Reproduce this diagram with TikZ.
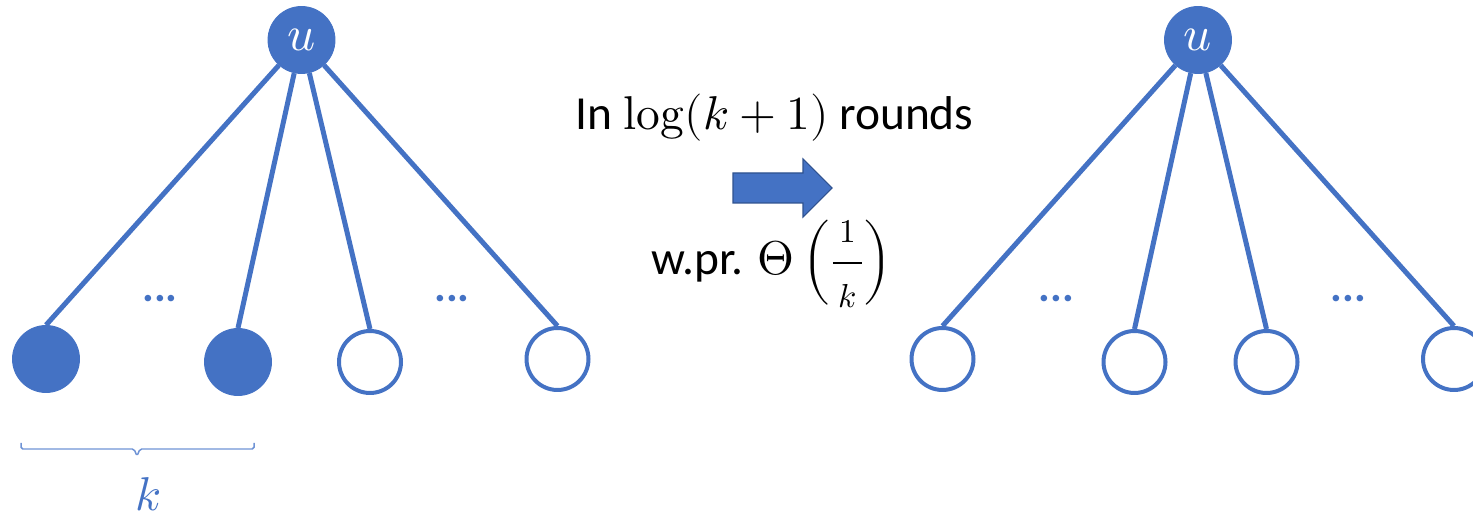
\documentclass[tikz,border=0pt]{standalone}
\usepackage{amsmath}
\usepackage{fontspec}
\usepackage{unicode-math}
\setmainfont{Carlito}
\usetikzlibrary{positioning}

\definecolor{nodeblue}{HTML}{4472C4}
\definecolor{arrowedge}{HTML}{2F528F}
\definecolor{braceblue}{HTML}{6F93D5}

\tikzset{
  full/.style={circle, fill=nodeblue, draw=nodeblue, line width=0.5pt,
               minimum size=1.34cm, inner sep=0pt},
  hollow/.style={circle, fill=white, draw=nodeblue, line width=0.08cm,
                 minimum size=1.24cm, inner sep=0pt},
  rootlabel/.style={text=white, font=\fontsize{28}{30}\selectfont},
  treeedge/.style={draw=nodeblue, line width=0.1cm},
  dotsmark/.style={text=nodeblue, inner sep=0pt, font=\fontsize{25}{28}\selectfont\bfseries},
  bigtext/.style={font=\fontsize{27}{30}\selectfont, inner sep=0pt}
}

\begin{document}
\begin{tikzpicture}[x=0.02cm, y=-0.02cm]

    % =================================================================
    % 0. KHUNG HÌNH
    % =================================================================
    \useasboundingbox (0,0) rectangle (1473,516);
    \def\dx{896.5}   % khoảng dịch cây bên phải

    % =================================================================
    % 1. CÂY BÊN TRÁI
    % =================================================================
    \node[full, rootlabel] (uL) at (301.5,40) {$u$};
    \node[full]   (aL1) at (46,359)    {};
    \node[full]   (aL2) at (238,362)   {};
    \node[hollow] (aL3) at (370,362)   {};
    \node[hollow] (aL4) at (557.5,359) {};

    \draw[treeedge] (uL) -- (aL1.north);
    \draw[treeedge] (uL) -- (aL2.north);
    \draw[treeedge] (uL) -- (aL3.north);
    \draw[treeedge] (uL) -- (aL4.north);

    \node[dotsmark] (dL1) at (160,299) {...};
    \node[dotsmark] (dL2) at (452,299) {...};

    % Dấu ngoặc dưới k lá đầu tiên
    \draw[braceblue, line width=0.03cm, rounded corners=1pt]
        (21,443) -- (21,449) -- (134,449) -- (137,456) -- (140,449)
        -- (254,449) -- (254,443);
    \node[bigtext, text=nodeblue] (klabel) at (148,494) {$k$};

    % =================================================================
    % 2. MŨI TÊN Ở GIỮA VÀ CHÚ THÍCH
    % =================================================================
    \node[bigtext, anchor=base] (rounds) at (774.5,130)
        {In $\mathop{\symup{log}}(k+1)$ rounds};
    \filldraw[fill=nodeblue, draw=arrowedge, line width=0.6pt]
        (733,173) -- (803,173) -- (803,159) -- (832,188)
        -- (803,217) -- (803,203) -- (733,203) -- cycle;
    \node[bigtext, anchor=base] (prob) at (772,275)
        {w.pr. $\Theta\left(\dfrac{\scriptstyle\,1\,}{\scriptstyle\,k\,}\right)$};

    % =================================================================
    % 3. CÂY BÊN PHẢI
    % =================================================================
    \begin{scope}[shift={(\dx,0)}]
        \node[full, rootlabel] (uR) at (301.5,40) {$u$};
        \node[hollow] (aR1) at (46,359)    {};
        \node[hollow] (aR2) at (238,362)   {};
        \node[hollow] (aR3) at (370,362)   {};
        \node[hollow] (aR4) at (557.5,359) {};

        \draw[treeedge] (uR) -- (aR1.north);
        \draw[treeedge] (uR) -- (aR2.north);
        \draw[treeedge] (uR) -- (aR3.north);
        \draw[treeedge] (uR) -- (aR4.north);

        \node[dotsmark] (dR1) at (160,299) {...};
        \node[dotsmark] (dR2) at (452,299) {...};
    \end{scope}

\end{tikzpicture}
\end{document}
